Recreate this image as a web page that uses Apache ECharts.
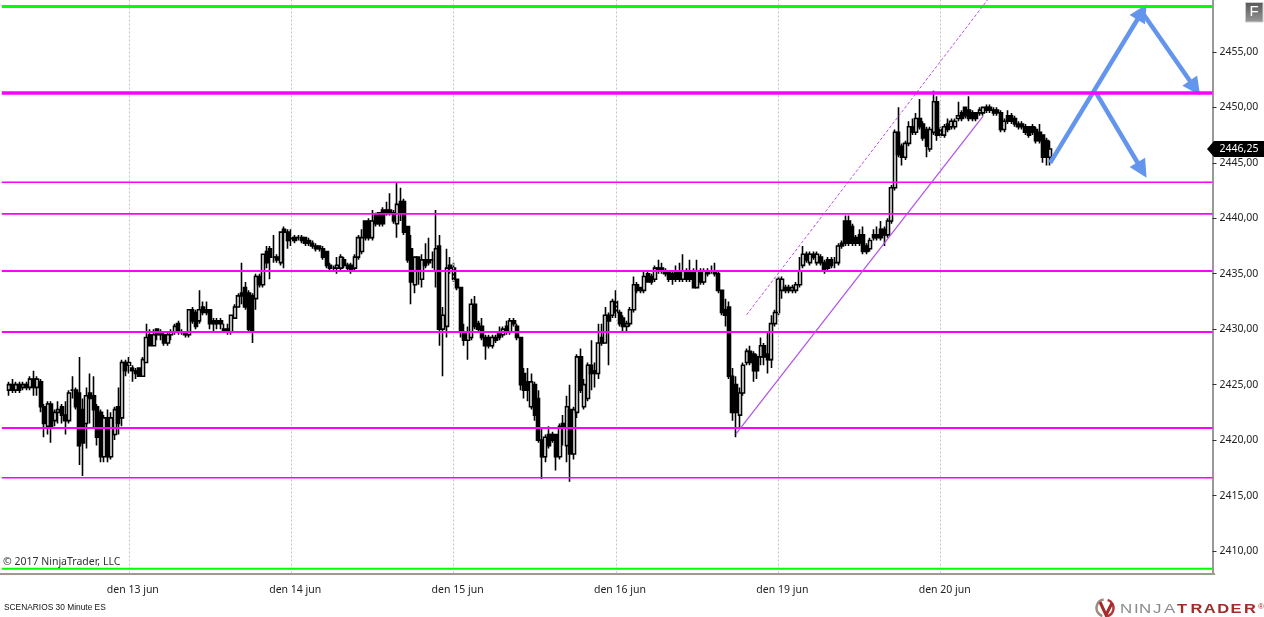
<!DOCTYPE html>
<html><head><meta charset="utf-8">
<style>html,body{margin:0;padding:0;background:#fff;overflow:hidden}#c{width:1264px;height:617px}</style>
<script src="https://cdn.jsdelivr.net/npm/echarts@6/dist/echarts.min.js"></script>
</head><body><div id="c"></div>
<script>
// rows are [open, close, low, high], one small list per session
const sessionPre = [
[2424.5,2425,2424,2425.25],[2425,2424.5,2424.25,2425.5],[2424.5,2425,2424.25,2425.25],[2425,2424.5,2424.25,2425.25],[2424.75,2425,2424.5,2425.25],
[2425,2424.75,2424.5,2425.25],[2424.75,2425.5,2424.5,2425.75],[2425.5,2424.75,2424,2426.25],[2424.75,2425.5,2424,2425.75],[2425.25,2423,2422.5,2425.5],
[2423,2421.5,2420.25,2423.25],[2421.25,2423.25,2420.5,2423.5],[2423.25,2421.25,2419.75,2423.5],[2421.75,2422.5,2421.25,2422.75],[2422.5,2422.75,2421.5,2423.5],
[2423,2422.25,2421.5,2423.25],[2422.25,2421.75,2420.5,2423.5],[2421.75,2424.25,2421.5,2424.5],[2424.5,2424.5,2423.75,2425.75],[2424.5,2423,2422.75,2424.75],
[2424.25,2419.5,2417.75,2427.5],[2422.75,2419.75,2416.75,2423.75],[2421.5,2424,2419.25,2424.75],[2424.25,2423.75,2421.5,2426],[2424,2422.75,2421,2425.75],
[2423,2420.25,2419.5,2423.25],[2422.5,2418.5,2418,2422.75],[2418.5,2422,2418,2422.25],[2422,2418.5,2418,2422.75],[2418.5,2422,2418.25,2422.5],
[2420.5,2422.75,2420,2423],[2423,2421.5,2420.5,2424.75],[2422,2427,2421.25,2427.25],[2427,2426.25,2425.75,2427.25]];
const session13 = [
[2426.75,2427,2426,2427.5],[2426.5,2426.25,2425.25,2426.75],[2426.25,2426,2425.5,2426.5],[2426.5,2425.75,2425.75,2426.5],[2425.75,2427.25,2425.75,2427.5],
[2427,2429.25,2427,2430.5],[2429.5,2428.5,2428.5,2430],[2428.5,2429.5,2428.5,2430],[2430,2429.5,2429,2430],[2429.75,2429.5,2429,2430],
[2429.5,2428.75,2428.5,2429.75],[2428.75,2429.5,2428.5,2429.75],[2429.5,2429.75,2429,2430],[2429.75,2430.25,2429.5,2430.5],[2430.5,2429.75,2429.5,2430.75],
[2429.75,2429.75,2429.5,2430],[2429.75,2429.5,2429.25,2429.75],[2429.5,2431.75,2429.25,2431.75],[2431.75,2430.75,2430.5,2432],[2431.5,2430.25,2430,2431.75],
[2430.75,2431.75,2430.5,2433.5],[2432,2431.5,2431.25,2432.5],[2431.75,2431.5,2431.25,2432.5],[2431.75,2430.5,2430,2431.75],[2430.75,2430.5,2429.75,2431],
[2430.75,2430.5,2430,2431],[2430.75,2430.5,2430,2431],[2430,2429.75,2429.75,2430.5],[2430,2429.75,2429.5,2430.5],[2429.75,2431.25,2429.5,2431.25],
[2431,2432,2431,2432.25],[2432,2433,2432,2433.25],[2433.25,2433,2432.25,2436],[2433.75,2432,2431.75,2434.25],[2433.25,2430,2429.75,2433.5],
[2433,2429.75,2428.75,2433.25],[2432.75,2434.75,2431.75,2435],[2434.75,2434,2433.75,2435],[2434,2436.75,2433.75,2436.75],[2437,2436,2435.5,2437.5],
[2437.25,2436.5,2434.5,2437.5],[2436.5,2436.5,2436,2438.5],[2436.5,2436.25,2436,2436.75],[2436,2438.75,2435.75,2438.75],[2439,2438.75,2435.5,2439.25],
[2438.75,2438,2437.25,2439]];
const session14 = [
[2438.25,2438,2437.5,2439],[2438.25,2438,2437.75,2438.5],[2438.25,2438.25,2438,2438.5],[2438.25,2438,2437.75,2438.5],[2438.25,2437.75,2437.5,2438.25],
[2438,2437.75,2437.5,2438.25],[2437.75,2437.5,2437.25,2438],[2437.5,2437.25,2437,2437.75],[2437.5,2437.25,2437,2437.5],[2437.25,2436.5,2436.25,2437.5],
[2437,2435.75,2435.5,2437],[2435.75,2435.5,2435.25,2436],[2435.5,2435.5,2435.25,2435.75],[2435.5,2435.75,2435,2436.5],[2435.5,2436.5,2435.25,2436.75],
[2436.25,2435.75,2435.5,2436.5],[2435.75,2435.5,2435.25,2436],[2435.75,2435.25,2435,2436],[2435.5,2436.5,2435.25,2436.75],[2436.5,2438.25,2436.25,2438.5],
[2437,2438.25,2436.75,2439],[2439.75,2438.25,2438,2439.75],[2439.75,2438.25,2438,2440],[2438.25,2439.75,2438,2440.75],[2440.25,2439.5,2439.25,2440.5],
[2440.5,2439.5,2439.25,2440.5],[2440.75,2439.5,2439.25,2441],[2440.75,2440.5,2440.25,2441.5],[2440.75,2440.5,2440.25,2442.25],[2440.5,2439.75,2439.5,2440.75],
[2439.5,2441.25,2438.25,2443.25],[2441.5,2440.5,2439.75,2442.75],[2441.5,2438.75,2438.5,2441.75],[2439.25,2436.25,2436,2439.25],[2437.25,2434.25,2432.25,2438.5],
[2434,2436.5,2433.25,2436.5],[2436.5,2435.25,2434,2436.5],[2434.5,2436.25,2433.75,2436.75],[2436.25,2435.75,2435.5,2437.75],[2436.25,2436,2435.75,2438.25],
[2436.25,2436.25,2435.5,2437],[2435.25,2437.25,2433.75,2440.75],[2437.5,2430,2428.5,2438.5],[2430,2431.25,2425.75,2432],[2430.25,2435.5,2429.25,2437.25],
[2435.75,2435.5,2435,2436.5]];
const session15 = [
[2435.5,2434.5,2434.25,2436],[2434.5,2433.75,2433.5,2434.5],[2433.75,2429.75,2429.25,2433.75],[2429.75,2429,2428.5,2430.5],[2429,2429.75,2427.25,2430.25],
[2429.25,2432.25,2429,2432.75],[2432.25,2430.25,2430,2433],[2430.5,2430,2429.75,2430.75],[2430.25,2429.25,2429,2431],[2429.25,2428.5,2427.25,2429.5],
[2429.25,2428.5,2428.25,2429.5],[2428.5,2429.25,2428.25,2429.5],[2429.25,2429,2428.75,2429.5],[2429.75,2429.25,2429,2430.25],[2429.5,2430,2429.25,2430.25],
[2430.25,2429.75,2429.5,2430.75],[2429.75,2430.75,2429.5,2431],[2430.75,2430.5,2430.25,2431],[2430.25,2429.25,2429,2430.5],[2429.25,2425,2424.5,2429.25],
[2426,2424.5,2423.75,2426.5],[2425.25,2424.5,2423.5,2426.5],[2423,2425.25,2422.75,2426],[2425,2422.25,2421.75,2425.25],[2423.75,2420,2419.75,2424.5],
[2420,2418.5,2416.5,2421],[2418.5,2420.25,2418,2420.5],[2420.5,2419.5,2419.25,2421.25],[2420.5,2420,2419.75,2420.75],[2420.5,2418.5,2417.25,2420.5],
[2418.5,2421.25,2418.25,2421.5],[2421.5,2421.25,2419.5,2422.25],[2419.5,2423,2418,2424],[2422.75,2418.75,2416.25,2425],[2418.75,2422.75,2418.25,2423],
[2422.5,2427.5,2422,2427.75],[2427.5,2424.5,2424.25,2428.25],[2423,2425,2422.75,2425.5],[2423.75,2426.75,2423.5,2427],[2426.75,2426,2424.5,2429],
[2426.25,2426,2424.75,2427],[2426,2428.75,2425.5,2430.5],[2429.25,2428.75,2428.5,2430.5],[2428.75,2431.25,2428.75,2432],[2431.25,2430.75,2426.75,2431.5],
[2431.25,2432.5,2431,2432.75]];
const session16 = [
[2432.5,2431.5,2431,2433.5],[2431.5,2430.5,2430.25,2431.75],[2431,2430.25,2429.75,2431.25],[2430.25,2430.5,2429.75,2430.75],[2430.5,2431.75,2430.25,2432],
[2431.75,2434,2431.5,2434.75],[2434,2433.5,2433.25,2434.25],[2433.75,2433.5,2433.25,2433.75],[2433.5,2434.75,2433.25,2435.25],[2435,2434.25,2434.25,2435.25],
[2434.75,2434.25,2434,2435],[2434.5,2435.5,2434.25,2435.75],[2435.5,2435.25,2435,2436.25],[2435.5,2435.25,2435,2436],[2435.25,2435,2434.75,2435.5],
[2435.25,2434.5,2434.25,2435.25],[2435,2434.5,2434,2435.25],[2435.25,2434.5,2434.25,2435.75],[2435.25,2434.5,2434.25,2436],[2434.5,2435.25,2434.25,2436.75],
[2435.25,2434.5,2434.25,2435.5],[2435.25,2434.5,2434.25,2436.25],[2435.25,2433.75,2433.75,2435.5],[2433.75,2435.25,2433.75,2436.25],[2435.25,2434.25,2434,2435.5],
[2434.25,2435.25,2434,2435.5],[2435.25,2435,2434.75,2435.5],[2435.25,2435.25,2435,2435.75],[2435.25,2435,2434.75,2436],[2435,2433.5,2433.25,2435.25],
[2433.5,2431.5,2431.25,2433.5],[2431.75,2431.25,2430.25,2432.75],[2432,2425.75,2425.5,2432.5],[2425.75,2422.5,2421.75,2426.5],[2425,2422.5,2420.25,2425.75],
[2422.25,2424.25,2421,2424.75],[2424.25,2426.75,2424,2427],[2427,2428,2426.75,2428.25],[2428,2427,2426.75,2428.5],[2427.75,2426.25,2425.25,2428],
[2427.5,2426.25,2425.5,2427.75],[2427.5,2428.5,2426.75,2429.25],[2428.5,2427.5,2426.75,2428.75],[2427.75,2427.25,2426,2429.75],[2427.25,2430.5,2426.5,2431.25],
[2430.5,2431.5,2430.25,2431.75]];
const session19 = [
[2431.5,2434.5,2431.25,2434.75],[2433.5,2434.5,2432.75,2434.75],[2433.75,2433.5,2433.25,2434],[2433.75,2433.5,2433.25,2434],[2433.5,2433.75,2433.25,2434],
[2433.5,2434,2433.25,2434.25],[2434,2435.25,2433.75,2436.5],[2435.75,2436.75,2435.5,2437.5],[2436.75,2436.25,2436,2437],[2436,2436.75,2435.75,2437],
[2436.75,2436.5,2436.25,2437],[2436,2436.75,2435.75,2437],[2436.5,2436,2435.75,2436.75],[2436,2435.25,2435,2436.25],[2436.25,2435.5,2435.25,2436.5],
[2436.25,2435.75,2435.5,2436.5],[2436,2436,2435.5,2436.5],[2436,2437.5,2435.75,2437.75],[2437.75,2437.5,2437.25,2438],[2439.75,2437.75,2437.5,2440.25],
[2439.75,2437.75,2437.5,2440.25],[2439.25,2437.75,2437.5,2439.5],[2438.25,2437.75,2437.5,2438.5],[2438.5,2437.75,2437.5,2439],[2438.5,2437,2436.75,2439.25],
[2437.5,2437,2436.75,2437.75],[2437.25,2438,2437,2438.25],[2438.5,2438.25,2438,2439],[2438.5,2438.25,2438,2439.25],[2439,2438.25,2438,2439.75],
[2439,2438.5,2437.5,2439.25],[2438.5,2439.75,2438.25,2440],[2439.75,2442.75,2439.5,2443],[2442.75,2447.75,2442.5,2448],[2447.75,2445.75,2445.5,2450],
[2446.5,2445.5,2444.75,2446.75],[2445.5,2446.75,2445.25,2447],[2446.75,2448.25,2446.5,2448.75],[2448.25,2447.75,2447.5,2449],[2447.75,2449,2447.5,2449.5],
[2449,2448.25,2448,2450.75],[2448.5,2447.25,2447,2448.75],[2448,2446.5,2445.5,2448.25],[2446.25,2448,2446,2448.25],[2447.75,2450.5,2447.5,2451.5],
[2450.5,2447.5,2447,2451]];
const session20 = [
[2448,2447.5,2447.25,2448.25],[2447.5,2448.25,2447.25,2448.5],[2448.5,2448,2447.75,2449],[2448.25,2448.75,2448,2449],[2448.25,2448.75,2448,2449],
[2449,2449.25,2448.75,2450.5],[2449.5,2449,2448.75,2449.75],[2450,2449.25,2449,2450],[2449.75,2449,2448.75,2451],[2449.5,2449,2448.75,2449.75],
[2449.5,2449,2448.75,2449.5],[2449.5,2449.75,2449.25,2450],[2449.5,2450,2449.25,2450],[2450,2449.75,2449.5,2450.25],[2450,2449.75,2449.5,2450.25],
[2449.75,2449.5,2449.25,2450],[2449.75,2449.5,2449.25,2450],[2449.5,2448,2447.75,2449.75],[2448,2448.75,2447.75,2449],[2449.25,2448.75,2448.5,2449.75],
[2449.25,2448.75,2448.5,2449.5],[2449,2448.5,2448.25,2449.25],[2448.5,2448.25,2448,2448.75],[2448.5,2448.25,2448,2448.75],[2448.25,2447.75,2447.5,2448.5],
[2448.25,2447.5,2447.25,2448.25],[2448.25,2447.75,2447.5,2448.5],[2448,2447,2446.75,2448.25],[2447.75,2447,2446.75,2448.5],[2447.5,2445.5,2445,2447.5],
[2447,2445.5,2444.75,2447.25],[2445.5,2446.25,2444.75,2447]];

const dayLabels = ['den 13 jun','den 14 jun','den 15 jun','den 16 jun','den 19 jun','den 20 jun'];
const dayStartBars = [36,82,128,174,220,266];
const yTicks = [2410,2415,2420,2425,2430,2435,2440,2445,2450,2455];
const lastPrice = 2446.25;
const greenLevels = [2459.1,2408.4];
const greenWidths = [3,2];
const magentaLevels = [2451.3,2443.25,2440.4,2435.25,2429.75,2421.1,2416.6];
const magentaWidths = [3.5,1.6,1.6,2,2,2,1.6];
const channelLower = [[208,2420.55],[278,2449.2]];
const channelUpper = [[211,2431.3],[280,2460]];
const arrowUp = [[297,2445],[323,2458.6]];
const arrowDownHigh = [[323,2458.6],[338,2451.75]];
const arrowDownLow = [[310,2451.3],[323,2444.35]];

const leadBlank = 2, totalBars = 344;
const candles = [].concat(sessionPre,session13,session14,session15,session16,session19,session20);
const candleData = Array.from({length:leadBlank},()=>'-').concat(candles);
const categories = Array.from({length:totalBars},(_,i)=>{const k=dayStartBars.indexOf(i);return k>=0?dayLabels[k]:'';});
const hasLabel = (i,v)=>v!=='';
const comma = v=>v.toFixed(2).replace('.',',');
const font = 'Noto Sans';

function levelSeries(levels,widths,color,z){
  return levels.map((p,k)=>({type:'line',data:[[-0.3,p],[totalBars-1,p]],showSymbol:false,symbol:'none',silent:true,z,
    lineStyle:{color,width:widths[k]},animation:false}));
}
function arrow(pts){
  return [{coord:pts[0],symbol:'none'},{coord:pts[1],symbol:'triangle',symbolSize:18}];
}
const option = {
  animation:false,
  backgroundColor:'#fff',
  grid:{left:0,top:0,width:1214.32,height:573.5,containLabel:false},
  xAxis:{type:'category',data:categories,boundaryGap:true,
    axisLine:{lineStyle:{color:'#999',width:2}},
    axisTick:{alignWithLabel:true,interval:hasLabel,length:4,lineStyle:{color:'#333'}},
    axisLabel:{interval:hasLabel,color:'#222',fontFamily:font,fontSize:10.5,margin:11,padding:[0,0,0,8],hideOverlap:false},
    splitLine:{show:false}},
  yAxis:{type:'value',position:'right',offset:-1.8,min:2407.97,max:2459.68,
    axisLine:{show:true,lineStyle:{color:'#777',width:1.5}},
    axisTick:{show:true,length:4,customValues:yTicks,lineStyle:{color:'#333'}},
    axisLabel:{customValues:yTicks,color:'#222',fontFamily:font,fontSize:10.5,margin:7,padding:[2,0,0,0],formatter:comma},
    splitLine:{show:false}},
  series:[
    {type:'line',data:[],z:1,markLine:{silent:true,animation:false,symbol:'none',label:{show:false},
      lineStyle:{color:'#c4c4c4',type:[2,2],width:1,opacity:1},
      data:dayStartBars.map(i=>({xAxis:i}))}},
    {type:'candlestick',data:candleData,barWidth:3.5,z:3,silent:true,
     itemStyle:{color:'#fff',color0:'#000',borderColor:'#000',borderColor0:'#000',borderWidth:1.6}},
    ...levelSeries(magentaLevels,magentaWidths,'#ff00ff',5),
    ...levelSeries(greenLevels,greenWidths,'#00ff00',5),
    {type:'line',data:channelLower,showSymbol:false,symbol:'none',silent:true,z:6,lineStyle:{color:'#b44fe8',width:1.2}},
    {type:'line',data:channelUpper,showSymbol:false,symbol:'none',silent:true,z:6,lineStyle:{color:'#b44fe8',width:1,type:[3,2]}},
    {type:'line',data:[],z:7,markLine:{silent:true,animation:false,label:{show:false},
      lineStyle:{color:'#6495ed',width:4.5,type:'solid',opacity:1},
      data:[arrow(arrowUp),arrow(arrowDownHigh),arrow(arrowDownLow)]}}
  ]
};
const chart = echarts.init(document.getElementById('c'),null,{renderer:'canvas'});
chart.setOption(option);

const tagY = chart.convertToPixel({yAxisIndex:0},lastPrice);
const logoNinja = 'NINJA'.split('').map((ch,i)=>({type:'text',x:[1120,1134,1139,1153,1164][i],y:602,z:20,scaleX:1.25,
  style:{text:ch,fill:'#8a8a8a',font:'13.5px "Liberation Sans"'}}));
const logoTrader = 'TRADER'.split('').map((ch,i)=>({type:'text',x:1177+i*13.4,y:602,z:20,scaleX:1.22,
  style:{text:ch,fill:'#a52a2a',font:'bold 13.5px "Liberation Sans"'}}));
chart.setOption({graphic:{elements:[
  {type:'polygon',z:20,shape:{points:[[1207,tagY],[1214,tagY-8],[1264,tagY-8],[1264,tagY+8],[1214,tagY+8]]},style:{fill:'#000'}},
  {type:'text',z:21,x:1239,y:tagY,style:{text:comma(lastPrice),fill:'#fff',font:'10.5px "Noto Sans"',align:'center',verticalAlign:'middle'}},
  {type:'rect',z:20,shape:{x:1245.5,y:2.5,width:17.5,height:19.5},style:{fill:new echarts.graphic.LinearGradient(0,0,0,1,[{offset:0,color:'#555'},{offset:1,color:'#999'}]),stroke:'#ccc',lineWidth:1}},
  {type:'text',z:21,x:1254,y:12,style:{text:'F',fill:'#fff',font:'15px "Liberation Sans"',align:'center',verticalAlign:'middle'}},
  {type:'text',z:20,x:3,y:562,style:{text:'\u00a9 2017 NinjaTrader, LLC',fill:'#333',font:'10.5px "Noto Sans"',verticalAlign:'middle'}},
  {type:'text',z:20,x:4,y:607.5,scaleX:0.88,style:{text:'SCENARIOS 30 Minute ES',fill:'#111',font:'9.5px "Liberation Sans"',verticalAlign:'middle'}},
  {type:'arc',z:20,shape:{cx:1105,cy:608,r:8.5,startAngle:Math.PI*0.6,endAngle:Math.PI*1.45},style:{fill:'none',stroke:'#a08c80',lineWidth:2.5}},
  {type:'arc',z:20,shape:{cx:1105,cy:608,r:8.5,startAngle:-Math.PI*0.4,endAngle:Math.PI*0.45},style:{fill:'none',stroke:'#b03a3a',lineWidth:2.5}},
  {type:'polyline',z:21,shape:{points:[[1100,602],[1106,615],[1112,603]]},style:{fill:'none',stroke:'#a52a2a',lineWidth:3}},
  ...logoNinja,...logoTrader,
  {type:'text',z:20,x:1258,y:603,style:{text:'\u00ae',fill:'#a52a2a',font:'8px "Liberation Sans"'}}
]}});
</script></body></html>
